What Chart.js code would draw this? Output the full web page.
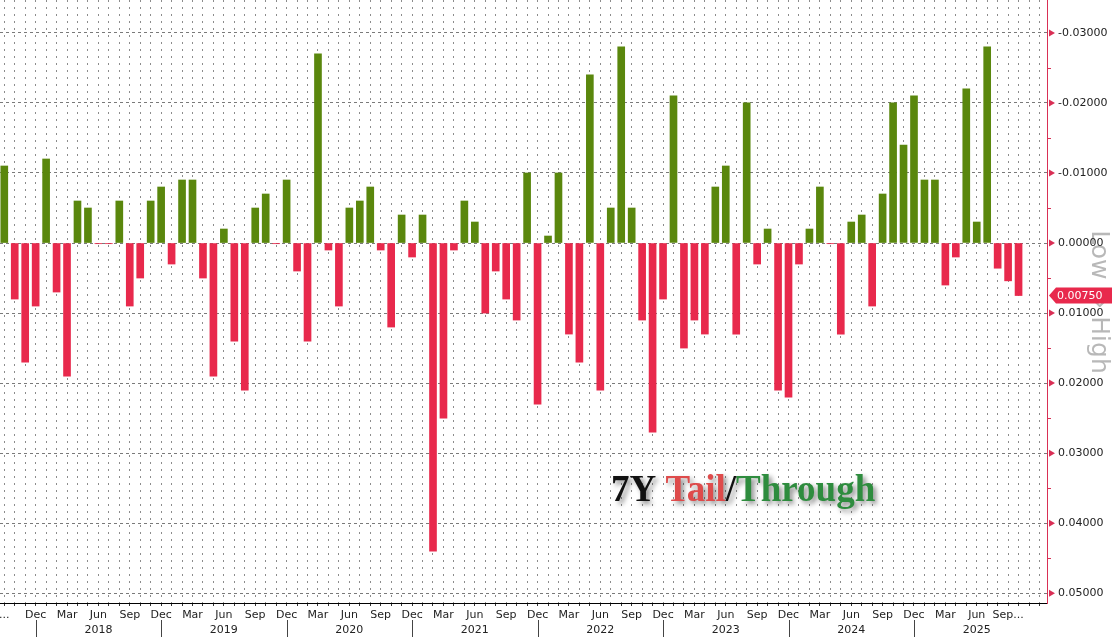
<!DOCTYPE html>
<html>
<head>
<meta charset="utf-8">
<title>7Y Tail/Through</title>
<script src="https://cdn.jsdelivr.net/npm/chart.js@4"></script>
<style>
  html, body { margin: 0; padding: 0; background: #fff; }
  #wrap { width: 1112px; height: 637px; }
</style>
</head>
<body>
<div id="wrap"><canvas id="chart" width="1112" height="637"></canvas></div>
<script>
// One entry per 7Y auction, Sep 2017 .. Oct 2025
const months = [
  'Sep 2017', 'Oct 2017', 'Nov 2017', 'Dec 2017',
  'Jan 2018', 'Feb 2018', 'Mar 2018', 'Apr 2018', 'May 2018', 'Jun 2018', 'Jul 2018', 'Aug 2018', 'Sep 2018', 'Oct 2018', 'Nov 2018', 'Dec 2018',
  'Jan 2019', 'Feb 2019', 'Mar 2019', 'Apr 2019', 'May 2019', 'Jun 2019', 'Jul 2019', 'Aug 2019', 'Sep 2019', 'Oct 2019', 'Nov 2019', 'Dec 2019',
  'Jan 2020', 'Feb 2020', 'Mar 2020', 'Apr 2020', 'May 2020', 'Jun 2020', 'Jul 2020', 'Aug 2020', 'Sep 2020', 'Oct 2020', 'Nov 2020', 'Dec 2020',
  'Jan 2021', 'Feb 2021', 'Mar 2021', 'Apr 2021', 'May 2021', 'Jun 2021', 'Jul 2021', 'Aug 2021', 'Sep 2021', 'Oct 2021', 'Nov 2021', 'Dec 2021',
  'Jan 2022', 'Feb 2022', 'Mar 2022', 'Apr 2022', 'May 2022', 'Jun 2022', 'Jul 2022', 'Aug 2022', 'Sep 2022', 'Oct 2022', 'Nov 2022', 'Dec 2022',
  'Jan 2023', 'Feb 2023', 'Mar 2023', 'Apr 2023', 'May 2023', 'Jun 2023', 'Jul 2023', 'Aug 2023', 'Sep 2023', 'Oct 2023', 'Nov 2023', 'Dec 2023',
  'Jan 2024', 'Feb 2024', 'Mar 2024', 'Apr 2024', 'May 2024', 'Jun 2024', 'Jul 2024', 'Aug 2024', 'Sep 2024', 'Oct 2024', 'Nov 2024', 'Dec 2024',
  'Jan 2025', 'Feb 2025', 'Mar 2025', 'Apr 2025', 'May 2025', 'Jun 2025', 'Jul 2025', 'Aug 2025', 'Sep 2025', 'Oct 2025'
];

// Tail (+) / stop-through (-), same order as months
const tails = [
  -0.011, 0.008, 0.017, 0.009,
  -0.012, 0.007, 0.019, -0.006, -0.005, 0.0001, 0.0001, -0.006, 0.009, 0.005, -0.006, -0.008,
  0.003, -0.009, -0.009, 0.005, 0.019, -0.002, 0.014, 0.021, -0.005, -0.007, 0.0001, -0.009,
  0.004, 0.014, -0.027, 0.001, 0.009, -0.005, -0.006, -0.008, 0.001, 0.012, -0.004, 0.002,
  -0.004, 0.044, 0.025, 0.001, -0.006, -0.003, 0.010, 0.004, 0.008, 0.011, -0.010, 0.023,
  -0.001, -0.010, 0.013, 0.017, -0.024, 0.021, -0.005, -0.028, -0.005, 0.011, 0.027, 0.008,
  -0.021, 0.015, 0.011, 0.013, -0.008, -0.011, 0.013, -0.020, 0.003, -0.002, 0.021, 0.022,
  0.003, -0.002, -0.008, 0.0001, 0.013, -0.003, -0.004, 0.009, -0.007, -0.020, -0.014, -0.021,
  -0.009, -0.009, 0.006, 0.002, -0.022, -0.003, -0.028, 0.0036, 0.0054, 0.0075
];

// Right axis tick values
const yTicks = [-0.03, -0.02, -0.01, 0, 0.01, 0.02, 0.03, 0.04, 0.05];
const quarterMonths = ['Mar', 'Jun', 'Sep', 'Dec'];
const titleParts = [['7Y ', '#111'], ['Tail', '#de4b4b'], ['/', '#111'], ['Through', '#2e8c3e']];

const GREEN = '#5a870d';
const RED = '#e8294c';
const AXIS = '#d92f55';

function xLabel(v) {
  const m = months[v];
  if (!m) return '';
  if (v === 0) return '...';
  if (v === months.length - 2) return 'Sep...';
  const [mon, yr] = m.split(' ');
  if (!quarterMonths.includes(mon)) return '';
  return mon === 'Jun' ? [mon, yr] : mon;
}

// Extra decorations: side label, year separators, axis markers, last value tag, title
const decor = {
  id: 'decor',
  beforeDraw(chart) {
    const { ctx } = chart;
    ctx.save();
    ctx.fillStyle = '#fff';
    ctx.fillRect(0, 0, chart.width, chart.height);
    ctx.translate(1098, 302);
    ctx.rotate(Math.PI / 2);
    ctx.font = '25px "DejaVu Sans"';
    ctx.fillStyle = '#b8b8b8';
    ctx.textAlign = 'center';
    ctx.textBaseline = 'middle';
    ctx.fillText('Low \u21D4 High', 0, 0);
    ctx.restore();
  },
  afterDraw(chart) {
    const { ctx, chartArea: a } = chart;
    const xs = chart.scales.x;
    const ys = chart.scales.y;
    ctx.save();

    // year separators under the axis
    ctx.strokeStyle = '#444';
    ctx.lineWidth = 1;
    months.forEach((m, i) => {
      if (!m.startsWith('Dec')) return;
      const x = Math.round(xs.getPixelForValue(i)) + 0.5;
      ctx.beginPath();
      ctx.moveTo(x, a.bottom + 17);
      ctx.lineTo(x, chart.height);
      ctx.stroke();
    });

    // right axis arrows and minor ticks
    ctx.fillStyle = AXIS;
    ctx.strokeStyle = AXIS;
    ys.ticks.forEach(t => {
      const y = ys.getPixelForValue(t.value);
      ctx.beginPath();
      ctx.moveTo(a.right + 2, y - 3.5);
      ctx.lineTo(a.right + 8, y);
      ctx.lineTo(a.right + 2, y + 3.5);
      ctx.closePath();
      ctx.fill();
      const half = t.value + 0.005;
      if (half < ys.max) {
        const ym = Math.round(ys.getPixelForValue(half)) + 0.5;
        ctx.beginPath();
        ctx.moveTo(a.right, ym);
        ctx.lineTo(a.right + 4, ym);
        ctx.stroke();
      }
    });

    // last value tag
    const last = tails[tails.length - 1];
    const ty = ys.getPixelForValue(last);
    ctx.fillStyle = RED;
    ctx.beginPath();
    ctx.moveTo(a.right + 2, ty);
    ctx.lineTo(a.right + 9, ty - 8);
    ctx.lineTo(chart.width, ty - 8);
    ctx.lineTo(chart.width, ty + 8);
    ctx.lineTo(a.right + 9, ty + 8);
    ctx.closePath();
    ctx.fill();
    ctx.fillStyle = '#fff';
    ctx.font = '11px "DejaVu Sans"';
    ctx.textAlign = 'left';
    ctx.textBaseline = 'middle';
    ctx.fillText(last.toFixed(5), a.right + 10, ty + 0.5);

    // title inside the plot
    ctx.font = 'bold 37px "Liberation Serif"';
    ctx.textBaseline = 'alphabetic';
    ctx.shadowColor = 'rgba(0,0,0,0.45)';
    ctx.shadowBlur = 5;
    ctx.shadowOffsetX = 3;
    ctx.shadowOffsetY = 3;
    let x = 611;
    titleParts.forEach(([t, c]) => {
      ctx.fillStyle = c;
      ctx.fillText(t, x, 501);
      x += ctx.measureText(t).width;
    });
    ctx.restore();
  }
};

new Chart(document.getElementById('chart'), {
  type: 'bar',
  data: {
    datasets: [{
      data: tails.map((v, i) => ({ x: i, y: v })),
      backgroundColor: tails.map(v => (v > 0 ? RED : GREEN)),
      borderWidth: 0,
      barThickness: 7
    }]
  },
  options: {
    responsive: false,
    animation: false,
    devicePixelRatio: 1,
    layout: { padding: 0 },
    plugins: { legend: { display: false }, tooltip: { enabled: false } },
    scales: {
      x: {
        type: 'linear',
        min: -0.41,
        max: 99.72,
        offset: false,
        grid: { offset: false, color: '#8c8c8c', lineWidth: 1, drawTicks: true, tickLength: 3, tickColor: '#333', tickBorderDash: [] },
        border: { display: true, color: '#000', width: 1, dash: [2, 5] },
        ticks: {
          stepSize: 1,
          includeBounds: false,
          autoSkip: false,
          maxRotation: 0,
          minRotation: 0,
          padding: 2,
          color: '#222',
          font: { family: 'DejaVu Sans', size: 11, lineHeight: 1.35 },
          callback: xLabel
        },
        afterFit: s => { s.height = 34; s.paddingLeft = 0; s.paddingRight = 0; }
      },
      y: {
        position: 'right',
        reverse: true,
        min: -0.0347,
        max: 0.0514,
        grid: { color: '#7a7a7a', lineWidth: 1, drawTicks: false },
        border: { display: true, color: AXIS, width: 1, dash: [3, 3] },
        afterBuildTicks: s => { s.ticks = yTicks.map(v => ({ value: v })); },
        ticks: {
          padding: 11,
          color: '#222',
          font: { family: 'DejaVu Sans', size: 11 },
          callback: v => (Math.abs(v) < 1e-9 ? 0 : v).toFixed(5)
        },
        afterFit: s => { s.width = 65; s.paddingTop = 0; s.paddingBottom = 0; }
      }
    }
  },
  plugins: [decor]
});
</script>
</body>
</html>
